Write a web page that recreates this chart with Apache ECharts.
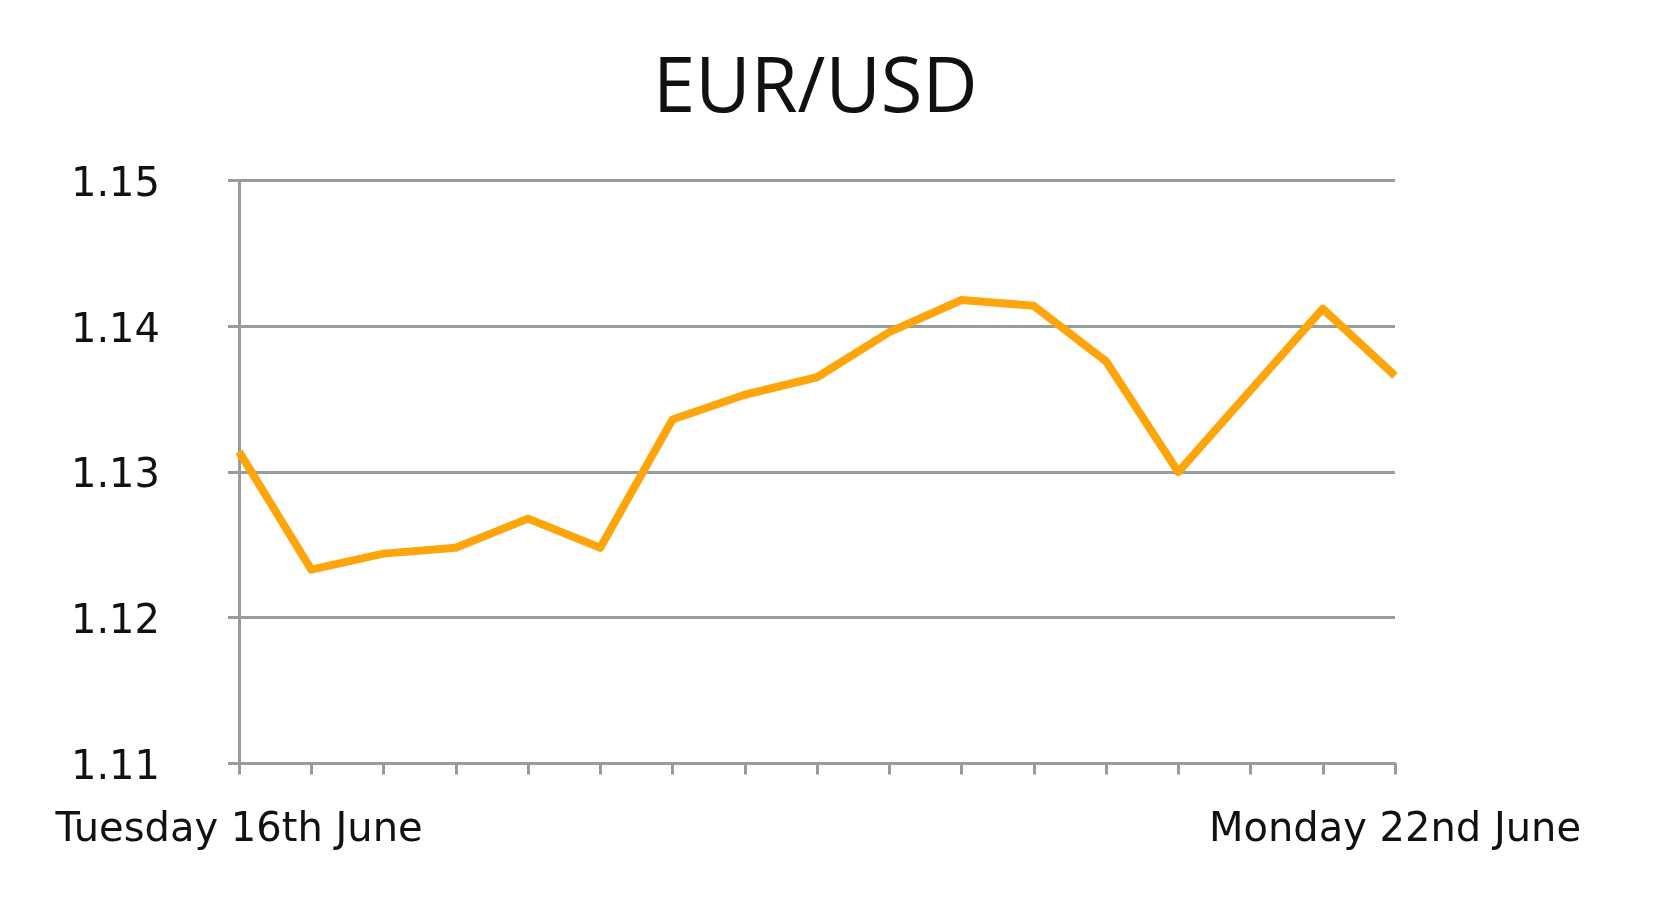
<!DOCTYPE html>
<html>
<head>
<meta charset="utf-8">
<script src="https://cdn.jsdelivr.net/npm/echarts@6/dist/echarts.min.js"></script>
<style>
html,body{margin:0;padding:0;background:#fff;}
#chart{width:1672px;height:907px;}
</style>
</head>
<body>
<div id="chart"></div>
<script>
const titleText = 'EUR/USD';
const categories = ['Tuesday 16th June','','','','','','','','','','','','','','','','Monday 22nd June'];
const rates = [1.1314,1.1233,1.1244,1.1248,1.1268,1.1248,1.1336,1.1353,1.1365,1.1396,1.1418,1.1414,1.1376,1.1300,1.1356,1.1412,1.1366];
const yTicks = [1.11,1.12,1.13,1.14,1.15];

const gray = '#979d9d';
const font = 'DejaVu Sans';
const chart = echarts.init(document.getElementById('chart'));
chart.setOption({
  animation: false,
  backgroundColor: '#ffffff',
  title: {
    text: titleText,
    left: 648,
    top: 47,
    textStyle: {fontFamily: 'Open Sans', fontSize: 76, fontWeight: 'normal', color: '#111111'}
  },
  grid: {left: 239, right: 277, top: 180.5, bottom: 143.5, containLabel: false},
  xAxis: {
    type: 'category',
    data: categories,
    boundaryGap: false,
    axisLine: {lineStyle: {color: gray, width: 3}},
    axisTick: {show: true, length: 11, interval: 0, lineStyle: {color: gray, width: 3}},
    axisLabel: {interval: 0, margin: 47, fontFamily: font, fontSize: 40, color: '#111111'},
    splitLine: {show: false}
  },
  yAxis: {
    type: 'value',
    min: yTicks[0],
    max: yTicks[yTicks.length - 1],
    interval: 0.01,
    axisLine: {show: true, lineStyle: {color: gray, width: 3}},
    axisTick: {show: true, length: 11, lineStyle: {color: gray, width: 3}},
    axisLabel: {
      margin: 79, fontFamily: font, fontSize: 40, color: '#111111',
      formatter: v => '{a|' + v.toFixed(2) + '}',
      rich: {a: {fontFamily: font, fontSize: 40, color: '#111111', padding: [10, 0, 0, 0]}}
    },
    splitLine: {show: true, lineStyle: {color: gray, width: 3}}
  },
  series: [{
    type: 'line',
    data: rates,
    showSymbol: false,
    symbol: 'none',
    lineStyle: {color: '#FFA50C', width: 8, join: 'round'},
    z: 5
  }]
});
</script>
</body>
</html>
